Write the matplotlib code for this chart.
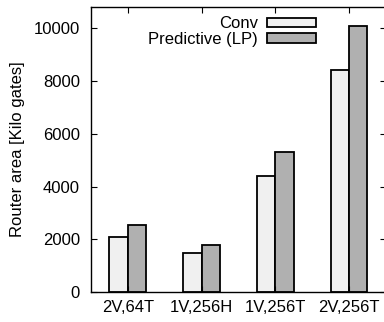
import numpy as np
import matplotlib
matplotlib.use("Agg")
import matplotlib.pyplot as plt
from matplotlib.patches import Patch

plt.rcParams['font.family'] = ['Liberation Sans', 'DejaVu Sans']

configs = ["2V,64T", "1V,256H", "1V,256T", "2V,256T"]
conv = [2100, 1470, 4400, 8400]
predictive = [2530, 1770, 5300, 10100]

fig = plt.figure(figsize=(3.84, 3.22), dpi=100)
ax = fig.add_axes([0.237, 0.093, 0.768, 0.885])

x = np.arange(len(configs))
w = 0.25
ax.bar(x - w / 2, conv, w, color="#f0f0f0", edgecolor="black", linewidth=1.3)
ax.bar(x + w / 2, predictive, w, color="#b0b0b0", edgecolor="black", linewidth=1.3)

ax.set_xlim(-0.5, 3.5)
ax.set_ylim(0, 10800)
ax.set_xticks(x)
ax.set_xticklabels(configs, fontsize=12)
ax.set_yticks(range(0, 10001, 2000))
ax.tick_params(direction='in', length=4, top=True, right=True, width=0.8)
ax.tick_params(axis='y', labelsize=12, pad=8)
ax.tick_params(axis='x', pad=6)
ax.set_ylabel("Router area [Kilo gates]", fontsize=12, labelpad=6)
for s in ax.spines.values():
    s.set_linewidth(1.0)

handles = [Patch(facecolor="#f0f0f0", edgecolor="black", linewidth=1.3),
           Patch(facecolor="#b0b0b0", edgecolor="black", linewidth=1.3)]
ax.legend(handles, ["Conv", "Predictive (LP)"], loc="upper right",
          bbox_to_anchor=(0.763, 0.968), markerfirst=False, frameon=False,
          fontsize=12, handlelength=2.95, handleheight=0.48,
          labelspacing=0.05, handletextpad=0.55, borderaxespad=0, borderpad=0)

fig.savefig("out.png", dpi=100)
